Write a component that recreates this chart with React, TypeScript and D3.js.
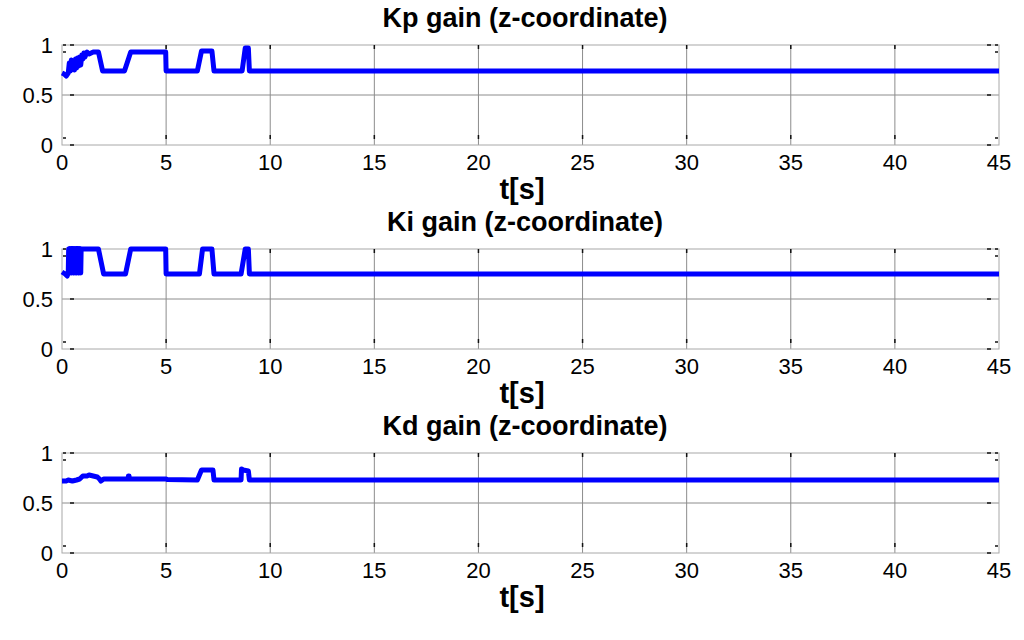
import { useEffect, useRef } from 'react';
import * as d3 from 'd3';

// time (s) and gain values, one pair of arrays per panel
const kpTime = [0, 0.1, 0.2, 0.3, 0.35, 0.4, 0.45, 0.5, 0.55, 0.6, 0.65, 0.7, 0.75, 0.8, 0.85, 0.9, 0.95, 1.0, 1.05, 1.1, 1.2, 1.3, 1.5, 1.75, 1.95, 3.0, 3.3, 4.98, 5.0, 6.5, 6.7, 7.2, 7.3, 8.65, 8.8, 8.95, 9.0, 45];
const kpValue = [0.72, 0.71, 0.69, 0.72, 0.82, 0.74, 0.85, 0.76, 0.83, 0.75, 0.86, 0.77, 0.87, 0.79, 0.88, 0.8, 0.9, 0.86, 0.92, 0.88, 0.93, 0.91, 0.93, 0.93, 0.74, 0.74, 0.93, 0.93, 0.74, 0.74, 0.94, 0.94, 0.74, 0.74, 0.97, 0.97, 0.74, 0.74];

const kiTime = [0, 0.15, 0.25, 0.3, 0.32, 0.34, 0.36, 0.38, 0.4, 0.42, 0.44, 0.46, 0.48, 0.5, 0.52, 0.54, 0.56, 0.58, 0.6, 0.62, 0.64, 0.66, 0.68, 0.7, 0.72, 0.74, 0.76, 0.78, 0.8, 0.82, 0.84, 0.86, 0.88, 0.9, 0.92, 0.95, 1.75, 2.0, 3.05, 3.3, 4.98, 5.0, 6.6, 6.75, 7.2, 7.3, 8.6, 8.8, 8.95, 9.0, 45];
const kiValue = [0.77, 0.75, 0.73, 0.76, 1.0, 0.76, 1.0, 0.77, 1.0, 0.76, 1.0, 0.76, 1.0, 0.77, 1.0, 0.76, 1.0, 0.76, 1.0, 0.77, 1.0, 0.76, 1.0, 0.76, 1.0, 0.77, 1.0, 0.76, 1.0, 0.76, 1.0, 0.77, 1.0, 0.76, 1.0, 1.0, 1.0, 0.75, 0.75, 1.0, 1.0, 0.75, 0.75, 1.0, 1.0, 0.75, 0.75, 1.0, 1.0, 0.75, 0.75];

const kdTime = [0, 0.2, 0.3, 0.5, 0.7, 0.85, 1.0, 1.2, 1.3, 1.5, 1.7, 1.8, 1.87, 2.0, 3.18, 3.19, 3.22, 3.23, 5.0, 5.05, 6.5, 6.7, 7.25, 7.3, 8.6, 8.62, 8.7, 8.95, 9.0, 45];
const kdValue = [0.72, 0.72, 0.73, 0.72, 0.73, 0.74, 0.77, 0.77, 0.78, 0.77, 0.76, 0.74, 0.72, 0.74, 0.74, 0.77, 0.77, 0.74, 0.74, 0.735, 0.73, 0.83, 0.83, 0.73, 0.73, 0.84, 0.83, 0.82, 0.73, 0.73];

const panelTitles = ['Kp gain (z-coordinate)', 'Ki gain (z-coordinate)', 'Kd gain (z-coordinate)'];
const xTicks = [0, 5, 10, 15, 20, 25, 30, 35, 40, 45];
const yTicks = [0, 0.5, 1];
const xLabel = 't[s]';

const series = [
  { time: kpTime, value: kpValue },
  { time: kiTime, value: kiValue },
  { time: kdTime, value: kdValue },
];

export default function App() {
  const svgRef = useRef<SVGSVGElement>(null);

  useEffect(() => {
    if (!svgRef.current) return;
    const svg = d3.select(svgRef.current);
    svg.selectAll('*').remove();

    const left = 62;
    const right = 999;
    const panelHeight = 100;
    const firstTop = 45;
    const step = 204;
    const font = "'Liberation Sans', Arial, sans-serif";

    const x = d3.scaleLinear().domain([0, 45]).range([left, right]);

    series.forEach((s, i) => {
      const top = firstTop + i * step;
      const bottom = top + panelHeight;
      const y = d3.scaleLinear().domain([0, 1]).range([bottom, top]);
      const g = svg.append('g');

      // Title
      g.append('text')
        .attr('x', 525)
        .attr('y', top - 18)
        .attr('text-anchor', 'middle')
        .attr('font-family', font)
        .attr('font-weight', 'bold')
        .attr('font-size', 27)
        .attr('fill', '#000')
        .text(panelTitles[i]);

      // Grid
      g.append('g')
        .selectAll('line')
        .data(xTicks.slice(1, -1))
        .join('line')
        .attr('x1', d => x(d)).attr('x2', d => x(d))
        .attr('y1', top).attr('y2', bottom)
        .attr('stroke', '#8c8c8c')
        .attr('stroke-width', 1);

      g.append('line')
        .attr('x1', left).attr('x2', right)
        .attr('y1', y(0.5)).attr('y2', y(0.5))
        .attr('stroke', '#8c8c8c')
        .attr('stroke-width', 1);

      // Box
      g.append('rect')
        .attr('x', left).attr('y', top)
        .attr('width', right - left).attr('height', panelHeight)
        .attr('fill', 'none')
        .attr('stroke', '#a8a8a8')
        .attr('stroke-width', 1);

      // Tick marks (small inward dashes, as in the reference)
      const tickColor = '#111';
      const dash = (x1: number, x2: number, y1: number, y2: number) =>
        g.append('line')
          .attr('x1', x1).attr('x2', x2)
          .attr('y1', y1).attr('y2', y2)
          .attr('stroke', tickColor).attr('stroke-width', 1.5);

      yTicks.forEach(t => {
        const ty = y(t);
        dash(left + 8, left + 12, ty, ty);
        dash(right - 12, right - 8, ty, ty);
        if (t !== 0.5) {
          const off = t === 1 ? 7 : -7;
          dash(left + 1, left + 4, ty + off, ty + off);
          dash(right - 4, right - 1, ty + off, ty + off);
        }
        if (t === 1) {
          dash(left + 1, left + 4, ty, ty);
          dash(right - 4, right - 1, ty, ty);
        }
      });
      xTicks.slice(1, -1).forEach(t => {
        dash(x(t), x(t), top, top + 4);
        dash(x(t), x(t), bottom - 10, bottom - 6);
      });

      // Tick labels
      g.append('g')
        .selectAll('text')
        .data(xTicks)
        .join('text')
        .attr('x', d => x(d))
        .attr('y', bottom + 25)
        .attr('text-anchor', 'middle')
        .attr('font-family', font)
        .attr('font-size', 22)
        .attr('fill', '#000')
        .text(d => String(d));

      g.append('g')
        .selectAll('text')
        .data(yTicks)
        .join('text')
        .attr('x', left - 9)
        .attr('y', d => y(d) + 8)
        .attr('text-anchor', 'end')
        .attr('font-family', font)
        .attr('font-size', 22)
        .attr('fill', '#000')
        .text(d => String(d));

      // X label
      g.append('text')
        .attr('x', 522)
        .attr('y', bottom + 54)
        .attr('text-anchor', 'middle')
        .attr('font-family', font)
        .attr('font-weight', 'bold')
        .attr('font-size', 29)
        .attr('fill', '#000')
        .text(xLabel);

      // Line
      const pts = s.time.map((t, k) => [t, s.value[k]] as [number, number]);
      const line = d3.line<[number, number]>()
        .x(d => x(d[0]))
        .y(d => y(d[1]))
        .curve(d3.curveLinear);

      g.append('path')
        .datum(pts)
        .attr('fill', 'none')
        .attr('stroke', '#0000ff')
        .attr('stroke-width', 5)
        .attr('stroke-linejoin', 'round')
        .attr('d', line);
    });
  }, []);

  return (
    <svg
      ref={svgRef}
      width={1024}
      height={640}
      style={{ position: 'absolute', left: 0, top: 0, background: '#fff' }}
    />
  );
}
